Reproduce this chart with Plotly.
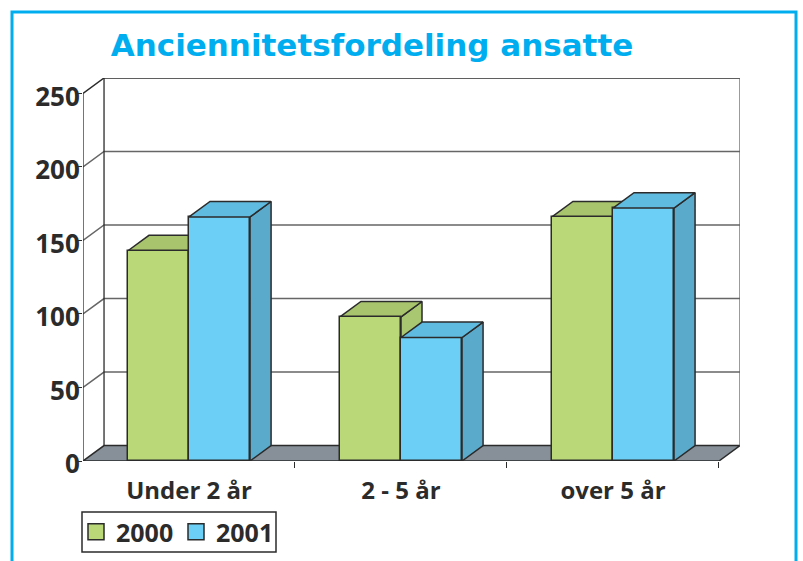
import plotly.graph_objects as go

categories = ["Under 2 år", "2 - 5 år", "over 5 år"]
values_2000 = [143, 98, 166]
values_2001 = [166, 84, 172]
y_ticks = [0, 50, 100, 150, 200, 250]

BAR_W = 0.288
DX = 0.0992   # oblique depth, category units
DY = 10.5     # oblique depth, value units
N = len(categories)
INK = "#2b2b2b"
GRID = "#666666"
FONT = "Open Sans"

GREEN, GREEN_TOP, GREEN_SIDE = "#BBD878", "#A8C46C", "#A9C670"
BLUE, BLUE_TOP, BLUE_SIDE = "#6BCFF6", "#60BBE0", "#5AAACC"

fig = go.Figure()


def poly(xs, ys, fill, line=INK, width=1.5, xa="x", ya="y"):
    fig.add_trace(go.Scatter(
        x=xs, y=ys, mode="lines", fill="toself" if fill else None, fillcolor=fill,
        line=dict(color=line, width=width), hoverinfo="skip", showlegend=False,
        xaxis=xa, yaxis=ya, cliponaxis=False))


# walls and floor
poly([0, DX, N + DX, N, 0], [0, DY, DY, 0, 0], "#879098")
for t in y_ticks[1:-1]:
    poly([0, DX, N + DX], [t, t + DY, t + DY], None, line=GRID)
poly([0, DX, N + DX], [y_ticks[-1], y_ticks[-1] + DY, y_ticks[-1] + DY], None)
poly([0, 0], [0, y_ticks[-1]], None, line=INK, width=1.3)
poly([DX, DX], [DY, y_ticks[-1] + DY], None, line=INK, width=1.3)
poly([N + DX, N + DX], [DY, y_ticks[-1] + DY], None, line=GRID, width=1.3)


def faces(x0, v, top, side, xa, ya):
    x1 = x0 + BAR_W
    poly([x1, x1 + DX, x1 + DX, x1, x1], [0, DY, v + DY, v, 0], side, xa=xa, ya=ya)
    poly([x0, x0 + DX, x1 + DX, x1, x0], [v, v + DY, v + DY, v, v], top, xa=xa, ya=ya)


# green depth faces sit behind every front face
for i, v in enumerate(values_2000):
    faces(i + 0.5 - BAR_W, v, GREEN_TOP, GREEN_SIDE, "x", "y")

# front faces
fig.add_trace(go.Bar(x=[i + 0.5 - BAR_W / 2 for i in range(N)], y=values_2000, width=BAR_W,
                     marker=dict(color=GREEN, line=dict(color=INK, width=1.5)),
                     showlegend=False, xaxis="x2", yaxis="y2", name="2000"))
fig.add_trace(go.Bar(x=[i + 0.5 + BAR_W / 2 for i in range(N)], y=values_2001, width=BAR_W,
                     marker=dict(color=BLUE, line=dict(color=INK, width=1.5)),
                     showlegend=False, xaxis="x2", yaxis="y2", name="2001"))

# blue depth faces
for i, v in enumerate(values_2001):
    faces(i + 0.5, v, BLUE_TOP, BLUE_SIDE, "x2", "y2")

# legend keys
for name, col in (("2000", GREEN), ("2001", BLUE)):
    fig.add_trace(go.Scatter(x=[None], y=[None], mode="markers", name=name,
                             marker=dict(symbol="square", size=16, color=col,
                                         line=dict(color=INK, width=1.5))))

x_range = [0, N + DX]
y_range = [0, y_ticks[-1] + DY]
fig.update_layout(
    width=803, height=561, barmode="overlay", bargap=0,
    margin=dict(l=83, r=63, t=78, b=100, pad=0, autoexpand=False),
    paper_bgcolor="white", plot_bgcolor="white",
    font=dict(family=FONT, color=INK),
    title=dict(text="<b>Anciennitetsfordeling ansatte</b>", x=372 / 803, xanchor="center",
               y=1 - 45 / 561, yanchor="middle",
               font=dict(family="DejaVu Sans", size=31, color="#00AEEF")),
    xaxis=dict(range=x_range, tickmode="array", tickvals=[i + 0.5 for i in range(N)],
               ticktext=[f"<b>{c}</b>" for c in categories], ticks="", showgrid=False,
               showline=False, zeroline=False, ticklabelstandoff=13,
               tickfont=dict(family=FONT, size=24, color=INK),
               minor=dict(tickmode="array", tickvals=[1, 2, 3], ticks="outside", ticklen=6,
                          tickcolor=INK, tickwidth=1, showgrid=False)),
    yaxis=dict(range=y_range, tickmode="array", tickvals=y_ticks,
               ticktext=[f"<b>{t}</b>" for t in y_ticks], ticks="outside", ticklen=4,
               tickcolor=INK, tickwidth=1, showgrid=False, showline=False, zeroline=False,
               ticklabelstandoff=-7, ticklabelshift=3,
               tickfont=dict(family=FONT, size=26, color=INK)),
    xaxis2=dict(range=x_range, overlaying="x", anchor="y2", visible=False),
    yaxis2=dict(range=y_range, overlaying="y", anchor="x2", visible=False),
    legend=dict(orientation="h", xref="paper", yref="paper", x=-7 / 657, xanchor="left",
                y=(461 - 532) / 383, yanchor="middle", borderwidth=0,
                bgcolor="rgba(0,0,0,0)", itemsizing="trace", itemwidth=30,
                entrywidth=55, entrywidthmode="pixels",
                font=dict(family=FONT, size=25, color=INK, weight=700)),
    shapes=[
        dict(type="rect", xref="paper", yref="paper",
             x0=-71 / 657, x1=(796 - 83) / 657, y0=-0.5, y1=(461 - 12) / 383,
             line=dict(color="#00AEEF", width=3), layer="below"),
        dict(type="rect", xref="paper", yref="paper",
             x0=-1 / 657, x1=(276 - 83) / 657, y0=(461 - 552) / 383, y1=(461 - 512) / 383,
             line=dict(color=INK, width=1.5), layer="below"),
    ],
)

fig.write_html("out.html", post_script="document.body.style.margin='0';",
               config=dict(displayModeBar=False))
